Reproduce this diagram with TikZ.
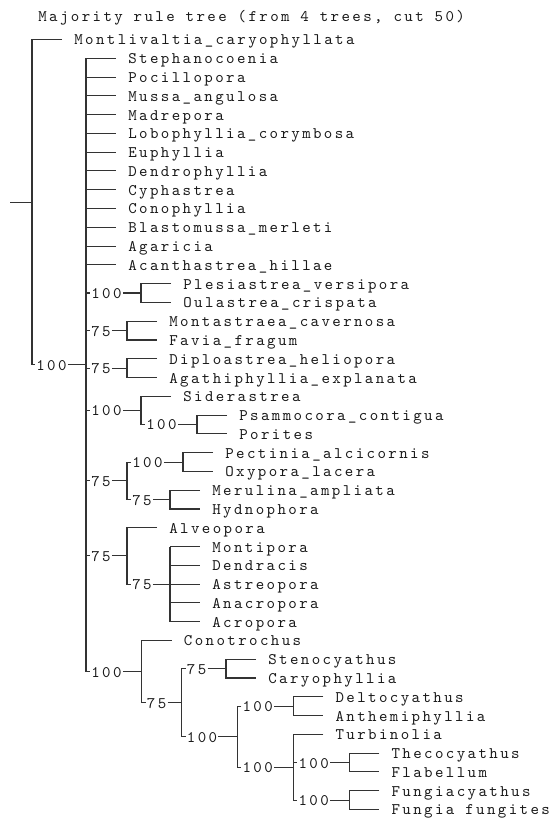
\documentclass[tikz,border=0pt]{standalone}
\usepackage{fontspec}
\newfontfamily\lmtree{lmmono10-regular.otf}[LetterSpace=14.9]
\newcommand\Y[1]{{39.5+18.78*(#1)}}
\newcommand\treefont{\lmtree\fontsize{12.1}{14}\selectfont}
\begin{document}
\begin{tikzpicture}[x=0.75pt,y=-0.75pt,
  txt/.style={font=\treefont, text=black!90, inner ysep=0pt, text height=10pt, text depth=1.8pt, anchor=west},
  leaf/.style={txt, inner xsep=9pt},
  lab/.style={txt, inner xsep=0.75pt},
  br/.style={draw=black!80, line width=0.8pt}]
\useasboundingbox (0,0) rectangle (549,820);

\node[txt, inner xsep=0pt] (title) at (38,16) {Majority rule tree (from 4 trees, cut 50)};

% ---- root
\coordinate (root) at (10,\Y{8.664});
\coordinate (rV) at (32,\Y{8.664});
\node[leaf] (t0) at (62,\Y{0}) {Montlivaltia\_caryophyllata};
\node[lab] (A) at (35,\Y{17.328}) {100};
\coordinate (AV) at (86,\Y{17.328});
\draw[br] (root) -- (rV);
\draw[br] (t0.west) -- (rV |- t0.west) -- (rV |- A.west) -- (A.west);
\draw[br] (A.east) -- (AV);

% ---- polytomy A
\node[leaf] (t1) at (116,\Y{1}) {Stephanocoenia};
\node[leaf] (t2) at (116,\Y{2}) {Pocillopora};
\node[leaf] (t3) at (116,\Y{3}) {Mussa\_angulosa};
\node[leaf] (t4) at (116,\Y{4}) {Madrepora};
\node[leaf] (t5) at (116,\Y{5}) {Lobophyllia\_corymbosa};
\node[leaf] (t6) at (116,\Y{6}) {Euphyllia};
\node[leaf] (t7) at (116,\Y{7}) {Dendrophyllia};
\node[leaf] (t8) at (116,\Y{8}) {Cyphastrea};
\node[leaf] (t9) at (116,\Y{9}) {Conophyllia};
\node[leaf] (t10) at (116,\Y{10}) {Blastomussa\_merleti};
\node[leaf] (t11) at (116,\Y{11}) {Agaricia};
\node[leaf] (t12) at (116,\Y{12}) {Acanthastrea\_hillae};
\foreach \n in {t1,t2,t3,t4,t5,t6,t7,t8,t9,t10,t11,t12}
  {\draw[br] (AV |- \n.west) -- (\n.west);}

% N1
\node[lab] (n1) at (90,\Y{13.5}) {100};
\coordinate (n1V) at (141,\Y{13.5});
\node[leaf] (t13) at (171,\Y{13}) {Plesiastrea\_versipora};
\node[leaf] (t14) at (171,\Y{14}) {Oulastrea\_crispata};
\draw[br] (AV |- n1.west) -- (n1.west) (n1.east) -- (n1V);
\draw[br] (t13.west) -- (n1V |- t13.west) -- (n1V |- t14.west) -- (t14.west);

% N2
\node[lab] (n2) at (90,\Y{15.5}) {75};
\coordinate (n2V) at (127,\Y{15.5});
\node[leaf] (t15) at (157,\Y{15}) {Montastraea\_cavernosa};
\node[leaf] (t16) at (157,\Y{16}) {Favia\_fragum};
\draw[br] (AV |- n2.west) -- (n2.west) (n2.east) -- (n2V);
\draw[br] (t15.west) -- (n2V |- t15.west) -- (n2V |- t16.west) -- (t16.west);

% N3
\node[lab] (n3) at (90,\Y{17.5}) {75};
\coordinate (n3V) at (127,\Y{17.5});
\node[leaf] (t17) at (157,\Y{17}) {Diploastrea\_heliopora};
\node[leaf] (t18) at (157,\Y{18}) {Agathiphyllia\_explanata};
\draw[br] (AV |- n3.west) -- (n3.west) (n3.east) -- (n3V);
\draw[br] (t17.west) -- (n3V |- t17.west) -- (n3V |- t18.west) -- (t18.west);

% N4
\node[lab] (n4) at (90,\Y{19.75}) {100};
\coordinate (n4V) at (141,\Y{19.75});
\node[leaf] (t19) at (171,\Y{19}) {Siderastrea};
\node[lab] (n4b) at (145,\Y{20.5}) {100};
\coordinate (n4bV) at (197,\Y{20.5});
\node[leaf] (t20) at (227,\Y{20}) {Psammocora\_contigua};
\node[leaf] (t21) at (227,\Y{21}) {Porites};
\draw[br] (AV |- n4.west) -- (n4.west) (n4.east) -- (n4V);
\draw[br] (t19.west) -- (n4V |- t19.west) -- (n4V |- n4b.west) -- (n4b.west);
\draw[br] (n4b.east) -- (n4bV);
\draw[br] (t20.west) -- (n4bV |- t20.west) -- (n4bV |- t21.west) -- (t21.west);

% N5
\node[lab] (n5) at (90,\Y{23.5}) {75};
\coordinate (n5V) at (127,\Y{23.5});
\node[lab] (n5a) at (131,\Y{22.5}) {100};
\coordinate (n5aV) at (183,\Y{22.5});
\node[leaf] (t22) at (213,\Y{22}) {Pectinia\_alcicornis};
\node[leaf] (t23) at (213,\Y{23}) {Oxypora\_lacera};
\node[lab] (n5b) at (131,\Y{24.5}) {75};
\coordinate (n5bV) at (170,\Y{24.5});
\node[leaf] (t24) at (200,\Y{24}) {Merulina\_ampliata};
\node[leaf] (t25) at (200,\Y{25}) {Hydnophora};
\draw[br] (AV |- n5.west) -- (n5.west) (n5.east) -- (n5V);
\draw[br] (n5a.west) -- (n5V |- n5a.west) -- (n5V |- n5b.west) -- (n5b.west);
\draw[br] (n5a.east) -- (n5aV) (n5b.east) -- (n5bV);
\draw[br] (t22.west) -- (n5aV |- t22.west) -- (n5aV |- t23.west) -- (t23.west);
\draw[br] (t24.west) -- (n5bV |- t24.west) -- (n5bV |- t25.west) -- (t25.west);

% N6
\node[lab] (n6) at (90,\Y{27.5}) {75};
\coordinate (n6V) at (127,\Y{27.5});
\node[leaf] (t26) at (157,\Y{26}) {Alveopora};
\node[lab] (n6b) at (131,\Y{29}) {75};
\coordinate (n6bV) at (170,\Y{29});
\node[leaf] (t27) at (200,\Y{27}) {Montipora};
\node[leaf] (t28) at (200,\Y{28}) {Dendracis};
\node[leaf] (t29) at (200,\Y{29}) {Astreopora};
\node[leaf] (t30) at (200,\Y{30}) {Anacropora};
\node[leaf] (t31) at (200,\Y{31}) {Acropora};
\draw[br] (AV |- n6.west) -- (n6.west) (n6.east) -- (n6V);
\draw[br] (t26.west) -- (n6V |- t26.west) -- (n6V |- n6b.west) -- (n6b.west);
\draw[br] (n6b.east) -- (n6bV);
\draw[br] (n6bV |- t27.west) -- (n6bV |- t31.west);
\foreach \n in {t27,t28,t29,t30,t31}
  {\draw[br] (n6bV |- \n.west) -- (\n.west);}

% N7
\node[lab] (n7) at (90,\Y{33.65625}) {100};
\coordinate (n7V) at (141.7,\Y{33.65625});
\node[leaf] (t32) at (171.7,\Y{32}) {Conotrochus};
\node[lab] (n7b) at (145.7,\Y{35.3125}) {75};
\coordinate (n7bV) at (181.7,\Y{35.3125});
\node[lab] (n7c) at (185.7,\Y{33.5}) {75};
\coordinate (n7cV) at (226,\Y{33.5});
\node[leaf] (t33) at (256,\Y{33}) {Stenocyathus};
\node[leaf] (t34) at (256,\Y{34}) {Caryophyllia};
\node[lab] (n7d) at (185.7,\Y{37.125}) {100};
\coordinate (n7dV) at (237.3,\Y{37.125});
\node[lab] (n7e) at (241.3,\Y{35.5}) {100};
\coordinate (n7eV) at (293.3,\Y{35.5});
\node[leaf] (t35) at (323.3,\Y{35}) {Deltocyathus};
\node[leaf] (t36) at (323.3,\Y{36}) {Anthemiphyllia};
\node[lab] (n7f) at (241.3,\Y{38.75}) {100};
\coordinate (n7fV) at (293.3,\Y{38.75});
\node[leaf] (t37) at (323.3,\Y{37}) {Turbinolia};
\node[lab] (n7g) at (297.3,\Y{38.5}) {100};
\coordinate (n7gV) at (349.3,\Y{38.5});
\node[leaf] (t38) at (379.3,\Y{38}) {Thecocyathus};
\node[leaf] (t39) at (379.3,\Y{39}) {Flabellum};
\node[lab] (n7h) at (297.3,\Y{40.5}) {100};
\coordinate (n7hV) at (349.3,\Y{40.5});
\node[leaf] (t40) at (379.3,\Y{40}) {Fungiacyathus};
\node[leaf] (t41) at (379.3,\Y{41}) {Fungia fungites};

\draw[br] (AV |- t1.west) -- (AV |- n7.west) -- (n7.west);
\draw[br] (n7.east) -- (n7V);
\draw[br] (t32.west) -- (n7V |- t32.west) -- (n7V |- n7b.west) -- (n7b.west);
\draw[br] (n7b.east) -- (n7bV);
\draw[br] (n7c.west) -- (n7bV |- n7c.west) -- (n7bV |- n7d.west) -- (n7d.west);
\draw[br] (n7c.east) -- (n7cV) (n7d.east) -- (n7dV);
\draw[br] (t33.west) -- (n7cV |- t33.west) -- (n7cV |- t34.west) -- (t34.west);
\draw[br] (n7e.west) -- (n7dV |- n7e.west) -- (n7dV |- n7f.west) -- (n7f.west);
\draw[br] (n7e.east) -- (n7eV) (n7f.east) -- (n7fV);
\draw[br] (t35.west) -- (n7eV |- t35.west) -- (n7eV |- t36.west) -- (t36.west);
\draw[br] (t37.west) -- (n7fV |- t37.west) -- (n7fV |- n7h.west) -- (n7h.west);
\draw[br] (n7fV |- n7g.west) -- (n7g.west);
\draw[br] (n7g.east) -- (n7gV) (n7h.east) -- (n7hV);
\draw[br] (t38.west) -- (n7gV |- t38.west) -- (n7gV |- t39.west) -- (t39.west);
\draw[br] (t40.west) -- (n7hV |- t40.west) -- (n7hV |- t41.west) -- (t41.west);
\end{tikzpicture}
\end{document}
